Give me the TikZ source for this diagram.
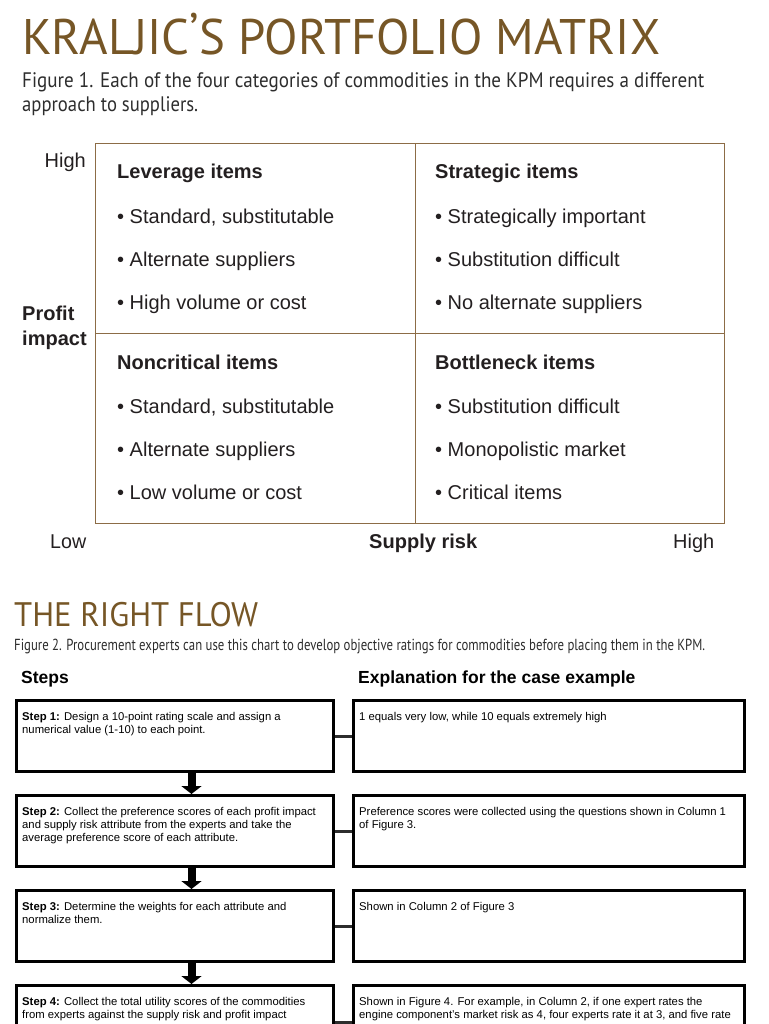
\documentclass[tikz,border=0pt]{standalone}
\usepackage{fontspec}
\usepackage{graphicx}
\setmainfont{Liberation Sans}
\newfontfamily\titlefont{PT Sans}
\newfontfamily\capfont{PT Sans}
\usetikzlibrary{arrows.meta}
\definecolor{kbrown}{RGB}{118,86,38}
\definecolor{mline}{RGB}{140,108,70}
\definecolor{mtext}{RGB}{35,31,32}
\definecolor{captext}{RGB}{45,45,45}
\definecolor{conngray}{RGB}{45,45,45}
\newcommand\fitw[2]{\resizebox{#1}{\height}{#2}}
\begin{document}
\begin{tikzpicture}[x=1pt,y=-1pt,
  titletxt/.style={anchor=base west, inner sep=0, text=kbrown, font=\titlefont\fontsize{50}{50}\selectfont},
  subtitletxt/.style={anchor=base west, inner sep=0, text=kbrown, font=\titlefont\fontsize{34}{34}\selectfont},
  captxt/.style={anchor=base west, inner sep=0, text=captext, font=\capfont\fontsize{21}{21}\selectfont},
  smallcap/.style={anchor=base west, inner sep=0, text=captext, font=\capfont\fontsize{16}{16}\selectfont},
  quad/.style={draw=mline, line width=1.2pt, minimum height=190pt, inner sep=0, anchor=north west},
  mtxt/.style={anchor=base west, inner sep=0, text=mtext, font=\fontsize{20}{20}\selectfont},
  mhead/.style={anchor=base west, inner sep=0, text=mtext, font=\bfseries\fontsize{20}{20}\selectfont},
  stepbox/.style={draw, line width=3pt, minimum width=317pt, minimum height=71pt, inner sep=0, anchor=north west},
  expbox/.style={stepbox, minimum width=391pt},
  btext/.style={anchor=base west, inner sep=0, align=left, font=\fontsize{11.3}{13.3}\selectfont},
  colhead/.style={anchor=base west, inner sep=0, font=\bfseries\fontsize{17.5}{17.5}\selectfont},
  flowarrow/.style={line width=8pt, -{Triangle[width=20pt,length=8pt]}},
  conn/.style={line width=3pt, draw=conngray}
]
\useasboundingbox (0,0) rectangle (768,1024);
\clip (0,0) rectangle (768,1024);

% ---------- Title and caption ----------
\node[titletxt] (title) at (22,55) {\fitw{638pt}{KRALJIC\raisebox{0.12em}{’}S PORTFOLIO MATRIX}};
\node[captxt] (cap1a) at (22,88) {\fitw{682pt}{Figure 1. Each of the four categories of commodities in the KPM requires a different}};
\node[captxt] (cap1b) at (22,112) {\fitw{176pt}{approach to suppliers.}};

% ---------- Matrix ----------
\node[quad, minimum width=320pt] (qlev) at (95,143) {};
\node[quad, minimum width=309pt] (qstr) at (415,143) {};
\node[quad, minimum width=320pt] (qnon) at (95,333) {};
\node[quad, minimum width=309pt] (qbot) at (415,333) {};

\node[mhead] (levh) at (117,179) {Leverage items};
\node[mtxt] (lev1) at (117,223) {• Standard, substitutable};
\node[mtxt] (lev2) at (117,266) {• Alternate suppliers};
\node[mtxt] (lev3) at (117,309) {• High volume or cost};

\node[mhead] (strh) at (435,179) {Strategic items};
\node[mtxt] (str1) at (435,223) {• Strategically important};
\node[mtxt] (str2) at (435,266) {• Substitution difficult};
\node[mtxt] (str3) at (435,309) {• No alternate suppliers};

\node[mhead] (nonh) at (117,369) {Noncritical items};
\node[mtxt] (non1) at (117,413) {• Standard, substitutable};
\node[mtxt] (non2) at (117,456) {• Alternate suppliers};
\node[mtxt] (non3) at (117,499) {• Low volume or cost};

\node[mhead] (both) at (435,369) {Bottleneck items};
\node[mtxt] (bot1) at (435,413) {• Substitution difficult};
\node[mtxt] (bot2) at (435,456) {• Monopolistic market};
\node[mtxt] (bot3) at (435,499) {• Critical items};

\node[mtxt, anchor=base east] (yhigh) at (86,168) {High};
\node[mhead] (yprof) at (22,320) {Profit};
\node[mhead] (yimp) at (22,345) {impact};
\node[mtxt] (xlow) at (50,548) {\fitw{36pt}{Low}};
\node[mhead] (xsup) at (369,548) {\fitw{108pt}{Supply risk}};
\node[mtxt] (xhigh) at (673,548) {\fitw{41pt}{High}};

% ---------- Flow ----------
\node[subtitletxt] (title2) at (14,626) {\fitw{244pt}{THE RIGHT FLOW}};
\node[smallcap] (cap2) at (14,650) {\fitw{691pt}{Figure 2. Procurement experts can use this chart to develop objective ratings for commodities before placing them in the KPM.}};

\node[colhead] (hsteps) at (21,683) {Steps};
\node[colhead] (hexpl) at (358,683) {Explanation for the case example};

\node[stepbox] (s1) at (15,699) {};
\node[stepbox] (s2) at (15,794) {};
\node[stepbox] (s3) at (15,889) {};
\node[stepbox] (s4) at (15,984) {};
\node[expbox] (e1) at (352,699) {};
\node[expbox] (e2) at (352,794) {};
\node[expbox] (e3) at (352,889) {};
\node[expbox] (e4) at (352,984) {};

% base anchor = baseline of the last line
\node[btext] (t1) at (22,733.3) {\textbf{Step 1:} Design a 10-point rating scale and assign a\\numerical value (1-10) to each point.};
\node[btext] (t2) at (22,841.6) {\textbf{Step 2:} Collect the preference scores of each profit impact\\and supply risk attribute from the experts and take the\\average preference score of each attribute.};
\node[btext] (t3) at (22,923.3) {\textbf{Step 3:} Determine the weights for each attribute and\\normalize them.};
\node[btext] (t4) at (22,1018.3) {\textbf{Step 4:} Collect the total utility scores of the commodities\\from experts against the supply risk and profit impact};

\node[btext] (u1) at (359,720) {1 equals very low, while 10 equals extremely high};
\node[btext] (u2) at (359,828.3) {Preference scores were collected using the questions shown in Column 1\\of Figure 3.};
\node[btext] (u3) at (359,910) {Shown in Column 2 of Figure 3};
\node[btext] (u4) at (359,1018.3) {Shown in Figure 4. For example, in Column 2, if one expert rates the\\engine component’s market risk as 4, four experts rate it at 3, and five rate};

\draw[flowarrow] ([xshift=16.5pt]s1.south) -- ([xshift=16.5pt]s2.north);
\draw[flowarrow] ([xshift=16.5pt]s2.south) -- ([xshift=16.5pt]s3.north);
\draw[flowarrow] ([xshift=16.5pt]s3.south) -- ([xshift=16.5pt]s4.north);

\draw[conn] (s1.east) -- (e1.west);
\draw[conn] (s2.east) -- (e2.west);
\draw[conn] (s3.east) -- (e3.west);
\draw[conn] (s4.east |- 0,1022) -- (e4.west |- 0,1022);
\end{tikzpicture}
\end{document}
